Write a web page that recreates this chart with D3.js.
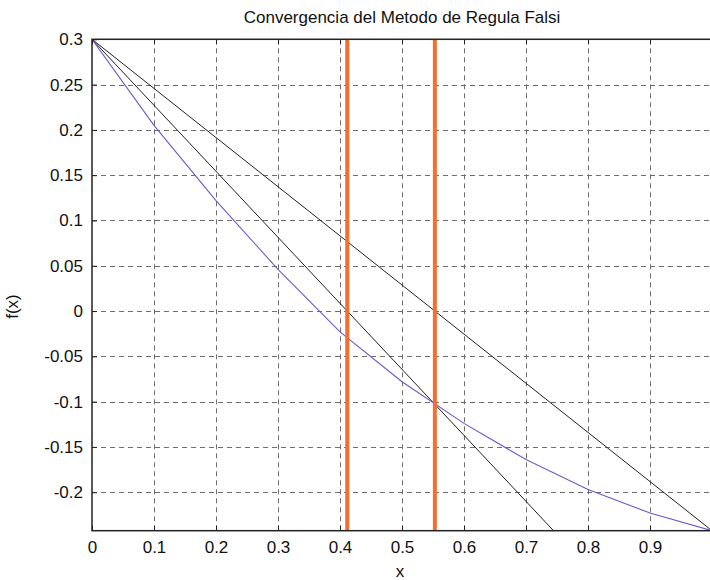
<!DOCTYPE html>
<html>
<head>
<meta charset="utf-8">
<script src="https://cdn.jsdelivr.net/npm/d3@7"></script>
<style>
  body { margin: 0; background: #fff; }
  svg { display: block; font-family: "Liberation Sans", Arial, sans-serif; }
</style>
</head>
<body>
<div id="chart"></div>
<script>
// curva f(x) muestreada cada 0.1
const xs = [0, 0.1, 0.2, 0.3, 0.4, 0.5, 0.6, 0.7, 0.8, 0.9, 1.0];
const fx = [0.3, 0.205, 0.122, 0.046, -0.023, -0.078, -0.124, -0.164, -0.197, -0.223, -0.2425];

// iteraciones de regula falsi (raices aproximadas)
const raices = [0.553, 0.4117];
// secantes: punto inicial y punto final
const secA = [[0, 0.3], [0, 0.3]];
const secB = [[1.0, -0.2425], [0.553, -0.103]];

const xTicks = [0, 0.1, 0.2, 0.3, 0.4, 0.5, 0.6, 0.7, 0.8, 0.9];
const yTicks = [0.3, 0.25, 0.2, 0.15, 0.1, 0.05, 0, -0.05, -0.1, -0.15, -0.2];

const width = 710, height = 580;
const margin = { top: 39.3, right: -2, bottom: 49.3, left: 92 };

const svg = d3.select("#chart").append("svg")
  .attr("width", width).attr("height", height);

const x = d3.scaleLinear().domain([0, 1]).range([margin.left, width - margin.right]);
const y = d3.scaleLinear().domain([-0.2425, 0.3]).range([height - margin.bottom, margin.top]);

svg.append("defs").append("clipPath").attr("id", "clip")
  .append("rect")
  .attr("x", x(0)).attr("y", y(0.3))
  .attr("width", x(1) - x(0)).attr("height", y(-0.2425) - y(0.3));

// grilla
const grid = svg.append("g")
  .attr("stroke", "#555").attr("stroke-width", 1).attr("stroke-dasharray", "5,4")
  .attr("opacity", 0.85);
grid.selectAll("line.gx")
  .data(xTicks.filter(d => d > 0))
  .join("line")
  .attr("x1", d => Math.round(x(d)) + 0.5).attr("x2", d => Math.round(x(d)) + 0.5)
  .attr("y1", y(0.3)).attr("y2", y(-0.2425));
grid.selectAll("line.gy")
  .data(yTicks.filter(d => d < 0.3))
  .join("line")
  .attr("y1", d => Math.round(y(d)) + 0.5).attr("y2", d => Math.round(y(d)) + 0.5)
  .attr("x1", x(0)).attr("x2", x(1));

const plot = svg.append("g").attr("clip-path", "url(#clip)");

// secantes (rectas extendidas en [0,1])
secA.forEach((a, i) => {
  const b = secB[i];
  const m = (b[1] - a[1]) / (b[0] - a[0]);
  const line = [[0, a[1] - m * a[0]], [1, a[1] + m * (1 - a[0])]];
  plot.append("line")
    .attr("x1", x(line[0][0])).attr("y1", y(line[0][1]))
    .attr("x2", x(line[1][0])).attr("y2", y(line[1][1]))
    .attr("stroke", "#222").attr("stroke-width", 1);
});

// curva
plot.append("path")
  .datum(xs.map((d, i) => [d, fx[i]]))
  .attr("fill", "none")
  .attr("stroke", "#6a5acd")
  .attr("stroke-width", 1.1)
  .attr("d", d3.line().x(d => x(d[0])).y(d => y(d[1])));

// raices
plot.selectAll("line.raiz")
  .data(raices)
  .join("line")
  .attr("x1", d => x(d)).attr("x2", d => x(d))
  .attr("y1", y(0.3)).attr("y2", y(-0.2425))
  .attr("stroke", "#f07030").attr("stroke-width", 4);

// ejes
const fmt = d => String(+d.toFixed(2));
svg.append("g")
  .attr("transform", `translate(0,${y(-0.2425)})`)
  .call(d3.axisBottom(x).tickValues(xTicks).tickSize(-5).tickPadding(10).tickFormat(fmt))
  .call(g => g.select(".domain").remove());
svg.append("g")
  .attr("transform", `translate(0,${y(0.3)})`)
  .call(d3.axisTop(x).tickValues(xTicks).tickSize(-5).tickFormat(""))
  .call(g => g.select(".domain").remove());
svg.append("g")
  .attr("transform", `translate(${x(0)},0)`)
  .call(d3.axisLeft(y).tickValues(yTicks).tickSize(-5).tickPadding(9).tickFormat(fmt))
  .call(g => g.select(".domain").remove());

svg.selectAll(".tick text").attr("font-size", 17).attr("fill", "#111")
  .attr("font-family", "'Liberation Sans', Arial, sans-serif");
svg.selectAll(".tick line").attr("stroke", "#222");

svg.append("rect")
  .attr("x", x(0)).attr("y", y(0.3))
  .attr("width", x(1) - x(0)).attr("height", y(-0.2425) - y(0.3))
  .attr("fill", "none").attr("stroke", "#222").attr("stroke-width", 1.5);

// textos
svg.append("text")
  .attr("x", (x(0) + x(1)) / 2).attr("y", 23)
  .attr("text-anchor", "middle").attr("font-size", 17).attr("fill", "#111")
  .text("Convergencia del Metodo de Regula Falsi");

svg.append("text")
  .attr("x", (x(0) + x(1)) / 2 - 2).attr("y", 577)
  .attr("text-anchor", "middle").attr("font-size", 17).attr("fill", "#111")
  .text("x");

svg.append("text")
  .attr("transform", `translate(18,${y(0.005)}) rotate(-90)`)
  .attr("text-anchor", "middle").attr("font-size", 17).attr("fill", "#111")
  .text("f(x)");
</script>
</body>
</html>
